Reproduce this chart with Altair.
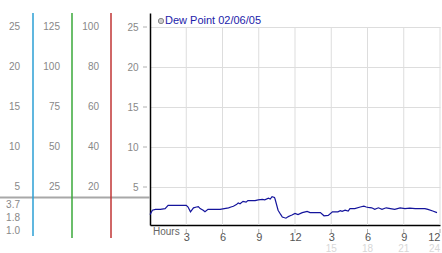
import altair as alt
import pandas as pd

# ---- data ----
hours = [0.0, 0.2, 0.45, 0.85, 1.25, 1.5, 2.1, 2.5, 3.0, 3.15, 3.35, 3.6, 3.85, 4.0, 4.15, 4.4,
         4.55, 4.8, 5.15, 5.5, 5.8, 6.15, 6.5, 6.7, 6.9, 7.15, 7.3, 7.45, 7.7, 7.95, 8.1, 8.45,
         8.7, 8.95, 9.3, 9.5, 9.8, 9.95, 10.1, 10.3, 10.35, 10.6, 10.8, 10.95, 11.25, 11.45, 11.6,
         11.75, 12.0, 12.25, 12.6, 12.85, 13.0, 13.25, 13.65, 14.1, 14.4, 14.75, 15.1, 15.55,
         15.75, 15.9, 16.15, 16.4, 16.55, 16.95, 17.4, 17.7, 17.9, 18.05, 18.35, 18.6, 18.9,
         19.2, 19.55, 19.9, 20.25, 20.7, 21.1, 21.5, 21.95, 22.35, 22.75, 23.0, 23.4, 23.75]
dew = [1.55, 2.1, 2.2, 2.2, 2.3, 2.7, 2.7, 2.7, 2.7, 2.5, 1.9, 2.4, 2.5, 2.55, 2.3, 2.1,
       1.9, 2.2, 2.2, 2.2, 2.2, 2.3, 2.4, 2.5, 2.6, 2.8, 3.0, 2.9, 3.2, 3.1, 3.3, 3.3,
       3.3, 3.4, 3.45, 3.4, 3.6, 3.5, 3.8, 3.7, 3.5, 2.1, 1.6, 1.25, 1.1, 1.3, 1.4,
       1.5, 1.7, 1.55, 1.8, 1.9, 1.95, 1.8, 1.8, 1.8, 1.4, 1.45, 1.9, 1.9,
       2.05, 1.95, 2.1, 2.0, 2.3, 2.3, 2.5, 2.6, 2.5, 2.45, 2.4, 2.2, 2.4,
       2.2, 2.4, 2.3, 2.2, 2.4, 2.3, 2.35, 2.3, 2.3, 2.3, 2.2, 2.0, 1.8]

axis_values = [5, 10, 15, 20, 25]
col2_labels = ["25", "50", "75", "100", "125"]
col3_labels = ["20", "40", "60", "80", "100"]
tick_hours = [3, 6, 9, 12, 15, 18, 21, 24]
faint_hours = [15, 18, 21]
faint_last = [24]
current_labels = ["3.7", "1.8", "1.0"]
current_value = 3.7
legend_label = "Dew Point 02/06/05"

FONT = "Liberation Sans"
YDOM = [0.25, 26.75]

line_df = pd.DataFrame({"h": hours, "v": dew})
lab_df = pd.DataFrame({"v": axis_values, "c1": [str(v) for v in axis_values],
                       "c2": col2_labels, "c3": col3_labels})
tick_df = pd.DataFrame({"h": tick_hours})
faint_df = pd.DataFrame({"h": faint_hours, "t": [str(h) for h in faint_hours]})
faint_last_df = pd.DataFrame({"h": faint_last, "t": [str(h) for h in faint_last]})
cur_df = pd.DataFrame({"t": current_labels, "i": list(range(len(current_labels)))})
one = pd.DataFrame({"a": [0]})

xs = alt.Scale(domain=[0, 24], nice=False)
ys = alt.Scale(domain=YDOM, nice=False, zero=False)

base_line = alt.Chart(line_df).mark_line(color="#14149c", strokeWidth=1.2).encode(
    x=alt.X("h:Q", scale=xs, axis=alt.Axis(
        values=tick_hours, grid=False, ticks=False, tickSize=0, labelPadding=6,
        labelExpr="datum.value > 12 ? datum.value - 12 : datum.value",
        labelFont=FONT, labelFontSize=11, labelColor="#555555", labelFlush=True,
        domainColor="#000000", domainWidth=1.5, title=None)),
    y=alt.Y("v:Q", scale=ys, axis=alt.Axis(
        values=axis_values, grid=True, gridColor="#dddddd", ticks=False, tickSize=0,
        labelPadding=12, labelFont=FONT, labelFontSize=10, labelColor="#888888",
        domainColor="#000000", domainWidth=1.5, title=None)),
)

# vertical grid lines from value 25 down
vgrid = alt.Chart(tick_df).mark_rule(color="#dddddd", strokeWidth=1).encode(
    x=alt.X("h:Q", scale=xs), y=alt.datum(25, scale=ys), y2=alt.value(212))

# small tick glyphs
xticks = alt.Chart(tick_df).mark_rule(color="#b0b0b0", strokeWidth=1).encode(
    x=alt.X("h:Q", scale=xs), y=alt.value(216), y2=alt.value(220))
yticks = alt.Chart(lab_df).mark_rule(color="#b0b0b0", strokeWidth=1).encode(
    y=alt.Y("v:Q", scale=ys), x=alt.value(-7), x2=alt.value(-3))

faint = alt.Chart(faint_df).mark_text(font=FONT, fontSize=10, color="#d8d8d8",
                                       baseline="middle").encode(
    x=alt.X("h:Q", scale=xs), y=alt.value(236), text="t:N")
faint2 = alt.Chart(faint_last_df).mark_text(font=FONT, fontSize=10, color="#d8d8d8",
                                            baseline="middle", align="right").encode(
    x=alt.X("h:Q", scale=xs), y=alt.value(236), text="t:N")

hours_title = alt.Chart(one).mark_text(text="Hours", font=FONT, fontSize=10, color="#666666",
                                       align="left", baseline="middle").encode(
    x=alt.value(3), y=alt.value(219))

# left-hand scales
col1 = alt.Chart(lab_df).mark_text(font=FONT, fontSize=10, color="#888888", align="right",
                                   baseline="middle").encode(
    y=alt.Y("v:Q", scale=ys), x=alt.value(-130), text="c1:N")
col2 = alt.Chart(lab_df).mark_text(font=FONT, fontSize=10, color="#888888", align="right",
                                   baseline="middle").encode(
    y=alt.Y("v:Q", scale=ys), x=alt.value(-90), text="c2:N")
col3 = alt.Chart(lab_df).mark_text(font=FONT, fontSize=10, color="#888888", align="right",
                                   baseline="middle").encode(
    y=alt.Y("v:Q", scale=ys), x=alt.value(-51), text="c3:N")

cur_line = alt.Chart(one).mark_rule(color="#a8a8a8", strokeWidth=2).encode(
    y=alt.datum(current_value, scale=ys), x=alt.value(-150), x2=alt.value(0))

cur_text = alt.Chart(cur_df).transform_calculate(py="192 + 13 * datum.i").mark_text(
    font=FONT, fontSize=10, color="#888888", align="right", baseline="middle").encode(
    y=alt.Y("py:Q", scale=None), x=alt.value(-130), text="t:N")

teal = alt.Chart(one).mark_rule(color="#2b9fd4", strokeWidth=1.5).encode(
    x=alt.value(-117), y=alt.value(0), y2=alt.value(223))
green = alt.Chart(one).mark_rule(color="#3aa83a", strokeWidth=1.5).encode(
    x=alt.value(-78), y=alt.value(0), y2=alt.value(225))
red = alt.Chart(one).mark_rule(color="#c03434", strokeWidth=1.5).encode(
    x=alt.value(-39), y=alt.value(0), y2=alt.value(225))

leg_dot = alt.Chart(one).mark_point(shape="circle", filled=True, fill="#cccccc",
                                    stroke="#8a8a8a", strokeWidth=1, size=28, opacity=1).encode(
    x=alt.value(11), y=alt.value(8))
leg_text = alt.Chart(one).mark_text(text=legend_label, font=FONT, fontSize=11, color="#1c1caa",
                                    align="left", baseline="alphabetic").encode(
    x=alt.value(15), y=alt.value(11))

chart = alt.layer(
    vgrid, cur_line, teal, green, red, base_line, xticks, yticks, faint, faint2,
    hours_title, col1, col2, col3, cur_text, leg_dot, leg_text
).properties(
    width=290, height=212,
    padding={"left": 150, "top": 13, "right": 2, "bottom": 28},
    autosize=alt.AutoSizeParams(type="none"),
    background="white",
).configure_view(stroke=None)

chart.save("out.html", embed_options={"renderer": "svg", "actions": False})
